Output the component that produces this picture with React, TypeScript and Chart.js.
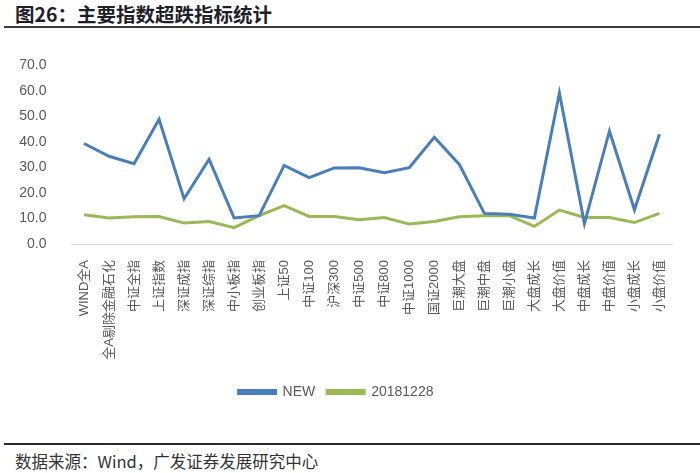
import React, { useEffect, useRef } from 'react';
import { Chart, registerables } from 'chart.js';

Chart.register(...registerables);

const categories = [
  'WIND全A', '全A剔除金融石化', '中证全指', '上证指数', '深证成指', '深证综指', '中小板指', '创业板指',
  '上证50', '中证100', '沪深300', '中证500', '中证800', '中证1000', '国证2000', '巨潮大盘',
  '巨潮中盘', '巨潮小盘', '大盘成长', '大盘价值', '中盘成长', '中盘价值', '小盘成长', '小盘价值',
];

const newValues = [
  39.4, 34.4, 31.5, 48.9, 17.7, 33.2, 10.2, 11.1,
  30.8, 26.0, 29.8, 29.9, 27.9, 29.9, 41.8, 31.2,
  12.0, 11.7, 10.2, 59.2, 8.0, 44.3, 13.4, 43.0,
];

const baseValues = [
  11.5, 10.2, 10.7, 10.8, 8.2, 8.8, 6.4, 11.1,
  15.0, 10.8, 10.8, 9.5, 10.4, 7.8, 8.8, 10.7,
  11.1, 11.1, 6.9, 13.3, 10.4, 10.4, 8.4, 12.0,
];

const seriesNames = ['NEW', '20181228'];
const yMin = 0;
const yMax = 70;
const yStep = 10;

const titleText = '图26：主要指数超跌指标统计';
const sourceText = '数据来源：Wind，广发证券发展研究中心';

const FONT = '"Liberation Sans", Arial, "Noto Sans CJK SC", sans-serif';

export default function App() {
  const canvasRef = useRef<HTMLCanvasElement | null>(null);

  useEffect(() => {
    document.body.style.margin = '0';
    const canvas = canvasRef.current;
    if (!canvas) return;
    const chart = new Chart(canvas, {
      type: 'line',
      data: {
        labels: categories,
        datasets: [
          {
            label: seriesNames[0],
            data: newValues,
            borderColor: '#4A7EBB',
            backgroundColor: '#4A7EBB',
            borderWidth: 3,
            pointRadius: 0,
            tension: 0,
            fill: false,
          },
          {
            label: seriesNames[1],
            data: baseValues,
            borderColor: '#98B954',
            backgroundColor: '#98B954',
            borderWidth: 3,
            pointRadius: 0,
            tension: 0,
            fill: false,
          },
        ],
      },
      options: {
        animation: false,
        responsive: false,
        maintainAspectRatio: false,
        layout: { padding: { top: 24, left: 0, right: 28, bottom: 11 } },
        plugins: {
          tooltip: { enabled: false },
          legend: {
            position: 'bottom',
            labels: {
              boxWidth: 37,
              boxHeight: 3,
              color: '#595959',
              font: { family: FONT, size: 14 },
              padding: 12,
            },
          },
        },
        scales: {
          x: {
            offset: true,
            grid: { display: false },
            border: { display: true, color: '#D9D9D9', width: 1 },
            ticks: {
              autoSkip: false,
              minRotation: 90,
              maxRotation: 90,
              color: '#595959',
              padding: 8,
              font: { family: FONT, size: 13 },
            },
            afterFit: (scale: any) => {
              scale.height = 129;
            },
          },
          y: {
            min: yMin,
            max: yMax,
            grid: { display: false },
            border: { display: false },
            ticks: {
              stepSize: yStep,
              color: '#595959',
              padding: 17,
              font: { family: FONT, size: 14 },
              callback: (v: any) => Number(v).toFixed(1),
            },
            afterFit: (scale: any) => {
              scale.width = 71.5;
            },
          },
        },
      },
    });
    return () => chart.destroy();
  }, []);

  return (
    <div style={{ position: 'relative', width: 700, height: 473, background: '#fff', overflow: 'hidden' }}>
      <div
        style={{
          position: 'absolute',
          left: 15,
          top: 1,
          fontFamily: '"Noto Sans CJK SC", sans-serif',
          fontWeight: 700,
          fontSize: 19.5,
          lineHeight: '25px',
          color: '#1F1F2A',
          whiteSpace: 'nowrap',
        }}
      >
        {titleText}
      </div>
      <div style={{ position: 'absolute', left: 4, right: 0, top: 26, height: 2, background: '#3A3A3A' }} />
      <canvas
        ref={canvasRef}
        width={700}
        height={380}
        style={{ position: 'absolute', left: 0, top: 40, width: 700, height: 380 }}
      />
      <div style={{ position: 'absolute', left: 4, right: 0, top: 443, height: 2, background: '#2A2A2A' }} />
      <div
        style={{
          position: 'absolute',
          left: 15,
          top: 450,
          fontFamily: '"Noto Sans CJK SC", sans-serif',
          fontSize: 16.5,
          lineHeight: '22px',
          color: '#333',
          whiteSpace: 'nowrap',
        }}
      >
        {sourceText}
      </div>
    </div>
  );
}
